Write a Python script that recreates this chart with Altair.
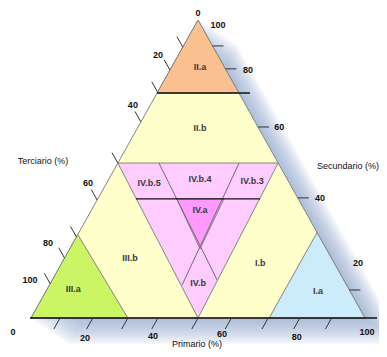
import altair as alt
import pandas as pd

# ---------------- data (ternary %, p = Primario, s = Secundario, Terciario = 100 - p - s)
region_names = ["triangle", "IV", "II.a", "III.a", "I.a", "IV.a"]
region_colors = ["#FFFFCC", "#FFCCFF", "#FAC090", "#CCF566", "#CCEBFB", "#FF99FF"]
region_p = [[0, 100, 0], [0, 48, 50], [0, 24.5, 0], [0, 29, 0], [71.3, 100, 71.3], [23.6, 37.8, 39]]
region_s = [[0, 0, 100], [52, 52, 0], [75.5, 75.5, 100], [0, 0, 28], [0, 0, 28.7], [40, 40, 23.2]]

label_text = ["II.a", "II.b", "IV.b.5", "IV.b.4", "IV.b.3", "IV.a", "IV.b", "III.b", "I.b", "III.a", "I.a"]
label_p = [8.5, 18.7, 12.7, 27.3, 43.2, 32.5, 44.2, 19.6, 59.4, 7.8, 81.4]
label_s = [84.2, 63.8, 45.3, 46.6, 46.0, 36.2, 11.7, 20.1, 18.5, 9.7, 9.1]

div_p0 = [0, 11.4, 12.3, 36.3, -0.3]
div_s0 = [75.5, 40, 52, 52, 0]
div_p1 = [27.8, 48.6, 49.3, 39.7, 103.6]
div_s1 = [75.5, 40, 12.8, 11.1, 0]
div_dark = [True, True, False, False, True]

ter_tick_s = [90.9, 83.2, 75.8, 65.8, 52, 39.6, 27.2, 20.1, 11.5]
sec_tick_s = [91.3, 83.6, 64.1, 40.3, 9.4]
pri_tick_p = [8.7, 18.5, 29, 38, 50, 60, 71, 80.5, 90]

ter_labels = ["0", "20", "40", "60", "80", "100"]
ter_lab_p = [-1.15, -6.15, -5.25, -5.55, -7.5, -6.7]
ter_lab_s = [102.3, 88.3, 71.5, 45.3, 25.2, 12.8]
sec_labels = ["100", "80", "60", "40", "20"]
sec_lab_p = [6.85, 23.4, 42.25, 66.35, 88.65]
sec_lab_s = [98.3, 83.2, 64.1, 40.3, 18.5]
pri_labels = ["0", "20", "40", "60", "80", "100"]
pri_lab_p = [-3.05, 19.55, 39.5, 59.9, 82.8, 102.95]
pri_lab_s = [-4.7, -6.7, -6.0, -5.4, -6.4, -4.7]
titles = ["Terciario (%)", "Secundario (%)", "Primario (%)"]
title_p = [-22.75, 69.4, 54.06]
title_s = [52.7, 51.0, -8.72]

# ---------------- layout
W, H = 371, 341
# pixel anchors of the triangle corners inside the plot area
x0, x100 = 23, 357
y0, y100 = 310, 12
kx = (x100 - x0) / 100
ky = (y0 - y100) / 100
xdom = [-x0 / kx, (W - x0) / kx]
ydom = [(y0 - H) / ky, y0 / ky]


def XY(p, s):
    return p + s / 2.0, s


xs = alt.Scale(domain=xdom, nice=False, zero=False)
ys = alt.Scale(domain=ydom, nice=False, zero=False)


def enc(ch):
    return ch.encode(
        x=alt.X("X:Q", scale=xs, axis=None),
        y=alt.Y("Y:Q", scale=ys, axis=None),
    )


layers = []

# glow (soft blue shadow to the lower right)
rows = []
for k in range(1, 17):
    for i, (p, s) in enumerate(zip(region_p[0] + [region_p[0][0]], region_s[0] + [region_s[0][0]])):
        X, Y = XY(p, s)
        rows.append({"g": k, "i": i, "X": X + 2.4 * k / kx, "Y": Y - 1.6 * k / ky})
glow = pd.DataFrame(rows)
layers.append(
    enc(alt.Chart(glow).mark_line(fill="#8aa3cc", stroke="#8aa3cc", opacity=0.055, strokeWidth=2)).encode(
        detail="g:N", order="i:Q"
    )
)

# regions
for name, col, ps, ss in zip(region_names, region_colors, region_p, region_s):
    pts = list(zip(ps + [ps[0]], ss + [ss[0]]))
    df = pd.DataFrame([{"i": i, "X": XY(p, s)[0], "Y": XY(p, s)[1]} for i, (p, s) in enumerate(pts)])
    layers.append(enc(alt.Chart(df).mark_line(fill=col, stroke="#858585", strokeWidth=1)).encode(order="i:Q"))

# division lines
rows = []
for j, (a, b, c, d, dk) in enumerate(zip(div_p0, div_s0, div_p1, div_s1, div_dark)):
    for i, (p, s) in enumerate([(a, b), (c, d)]):
        X, Y = XY(p, s)
        rows.append({"seg": j, "i": i, "X": X, "Y": Y, "dark": dk})
divs = pd.DataFrame(rows)
layers.append(
    enc(alt.Chart(divs[~divs.dark]).mark_line(stroke="#707070", strokeWidth=1)).encode(detail="seg:N", order="i:Q")
)
layers.append(
    enc(alt.Chart(divs[divs.dark]).mark_line(stroke="#111111", strokeWidth=1.3)).encode(detail="seg:N", order="i:Q")
)

# tick marks
L = 3.5
rows = []
n = 0
for s in ter_tick_s:
    for i, (p, ss) in enumerate([(0, s), (-L, s + L)]):
        X, Y = XY(p, ss)
        rows.append({"seg": n, "i": i, "X": X, "Y": Y})
    n += 1
for s in sec_tick_s:
    for i, (p, ss) in enumerate([(100 - s, s), (100 - s + 3.3, s)]):
        X, Y = XY(p, ss)
        rows.append({"seg": n, "i": i, "X": X, "Y": Y})
    n += 1
for p in pri_tick_p:
    for i, (pp, ss) in enumerate([(p, 0), (p, -3.7)]):
        X, Y = XY(pp, ss)
        rows.append({"seg": n, "i": i, "X": X, "Y": Y})
    n += 1
ticks = pd.DataFrame(rows)
layers.append(enc(alt.Chart(ticks).mark_line(stroke="#333333", strokeWidth=1)).encode(detail="seg:N", order="i:Q"))


def text_df(texts, ps, ss):
    return pd.DataFrame([{"t": t, "X": XY(p, s)[0], "Y": XY(p, s)[1]} for t, p, s in zip(texts, ps, ss)])


FONT = "Liberation Sans"
layers.append(
    enc(
        alt.Chart(text_df(label_text, label_p, label_s)).mark_text(
            font=FONT, fontSize=9, fontWeight="bold", color="#3a3a3a"
        )
    ).encode(text="t:N")
)
axis_df = pd.concat(
    [
        text_df(ter_labels, ter_lab_p, ter_lab_s),
        text_df(sec_labels, sec_lab_p, sec_lab_s),
        text_df(pri_labels, pri_lab_p, pri_lab_s),
    ]
)
layers.append(
    enc(alt.Chart(axis_df).mark_text(font=FONT, fontSize=9, fontWeight="bold", color="#111111")).encode(text="t:N")
)
layers.append(
    enc(
        alt.Chart(text_df(titles, title_p, title_s)).mark_text(font=FONT, fontSize=9, color="#111111")
    ).encode(text="t:N")
)

chart = (
    alt.layer(*layers)
    .properties(width=W, height=H, padding=0, autosize=alt.AutoSizeParams(type="none"))
    .configure_view(stroke=None)
)
chart.save("out.html", embed_options={"renderer": "svg", "actions": False})
